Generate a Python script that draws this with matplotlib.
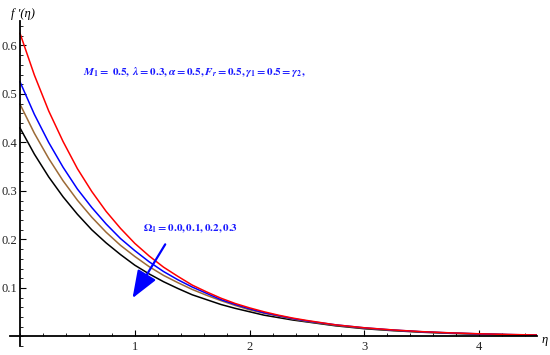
import matplotlib
matplotlib.use("Agg")
import matplotlib.pyplot as plt
from matplotlib.ticker import MultipleLocator

plt.rcParams['mathtext.fontset'] = 'stix'
plt.rcParams['font.family'] = ['Liberation Serif', 'DejaVu Serif']

eta = [0, 0.125, 0.25, 0.375, 0.5, 0.625, 0.75, 0.875, 1.0, 1.125, 1.25, 1.375,
       1.5, 1.625, 1.75, 1.875, 2.0, 2.125, 2.25, 2.375, 2.5,
       2.75, 3.0, 3.25, 3.5, 3.75, 4.0, 4.25, 4.5]
f_omega0 = [0.625, 0.539, 0.465, 0.402, 0.346, 0.299, 0.258, 0.223, 0.192, 0.166,
            0.143, 0.124, 0.106, 0.092, 0.079, 0.068, 0.059, 0.051, 0.044, 0.038,
            0.033, 0.024, 0.018, 0.0135, 0.010, 0.0075, 0.0056, 0.0042, 0.0031]
f_omega1 = [0.525, 0.458, 0.400, 0.349, 0.304, 0.266, 0.232, 0.202, 0.177, 0.154,
            0.134, 0.117, 0.102, 0.089, 0.076, 0.066, 0.057, 0.049, 0.043, 0.037,
            0.032, 0.024, 0.0178, 0.0133, 0.0098, 0.0073, 0.0054, 0.0040, 0.0030]
f_omega2 = [0.479, 0.419, 0.367, 0.321, 0.281, 0.246, 0.215, 0.188, 0.165, 0.144,
            0.126, 0.111, 0.097, 0.085, 0.074, 0.064, 0.055, 0.048, 0.042, 0.036,
            0.031, 0.023, 0.0170, 0.0127, 0.0094, 0.0070, 0.0052, 0.0038, 0.0028]
f_omega3 = [0.430, 0.376, 0.329, 0.288, 0.252, 0.220, 0.193, 0.169, 0.147, 0.129,
            0.113, 0.099, 0.086, 0.076, 0.066, 0.058, 0.051, 0.044, 0.039, 0.034,
            0.030, 0.022, 0.016, 0.012, 0.0088, 0.0065, 0.0048, 0.0035, 0.0026]

series = [f_omega0, f_omega1, f_omega2, f_omega3]
colors = ['#ff0000', '#0000ff', '#9c6a36', '#000000']

fig = plt.figure(figsize=(5.5, 3.55), dpi=100)
ax = fig.add_axes([0.0176, 0.0248, 0.958, 0.9154])
for ys, c in zip(series[::-1], colors[::-1]):
    ax.plot(eta, ys, color=c, lw=1.1, solid_joinstyle='round')

ax.set_xlim(-0.09, 4.5)
ax.set_ylim(-0.02, 0.65)
for s in ['top', 'right']:
    ax.spines[s].set_visible(False)
ax.spines['left'].set_position(('data', 0))
ax.spines['bottom'].set_position(('data', 0))
ax.spines['left'].set_linewidth(1.3)
ax.spines['bottom'].set_linewidth(1.3)

ax.xaxis.set_minor_locator(MultipleLocator(0.2))
ax.yaxis.set_minor_locator(MultipleLocator(0.02))
ax.set_xticks([1, 2, 3, 4])
ax.set_yticks([0.1, 0.2, 0.3, 0.4, 0.5, 0.6])
ax.set_yticklabels(['0.1', '0.2', '0.3', '0.4', '0.5', '0.6'])
ax.tick_params(axis='both', which='major', direction='in', length=4, width=0.8,
               labelsize=9, pad=3, colors='black', labelcolor='#222222')
ax.tick_params(axis='y', which='major', pad=2)
ax.tick_params(axis='both', which='minor', direction='in', length=2, width=0.6)

fig.text(545 / 550, 1 - 340 / 355, 'η', fontsize=9, fontstyle='italic',
         ha='center', va='center')
fig.text(23 / 550, 1 - 14 / 355, "f \u2032(η)", fontsize=9, fontstyle='italic',
         ha='center', va='center')

ax.text(0.55, 0.545,
        r'$\mathbfit{M}_\mathbf{1}\mathbf{=\ 0.5,\ }\mathbfit{\lambda}\mathbf{=0.3,}'
        r'\mathbfit{\alpha}\mathbf{=0.5,}\mathbfit{F_r}\mathbf{=0.5,}'
        r'\mathbfit{\gamma}_\mathbf{1}\mathbf{=0.5=}\mathbfit{\gamma}_\mathbf{2}\mathbf{,}$',
        color='#1a1aff', fontsize=8, ha='left', va='center')
ax.text(1.07, 0.223, r'$\mathbf{\Omega_1=0.0,0.1,0.2,0.3}$',
        color='#1a1aff', fontsize=8, ha='left', va='center')

ax.annotate('', xy=(0.98, 0.079), xytext=(1.265, 0.19),
            arrowprops=dict(arrowstyle='-|>,head_length=1.7,head_width=0.65',
                            color='#0000ff', lw=1.6, shrinkA=0, shrinkB=0))

fig.savefig('out.png', dpi=100)
